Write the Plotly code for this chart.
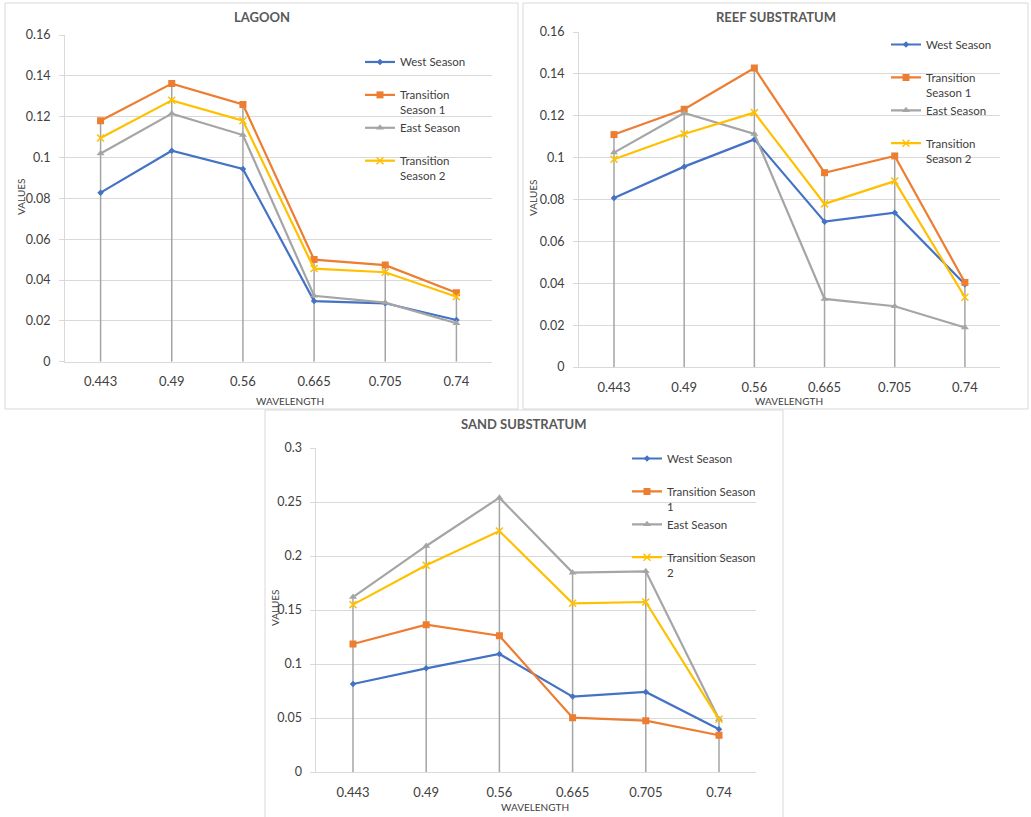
import numpy as np
import plotly.graph_objects as go

W, H = 1031, 817

categories = ["0.443", "0.49", "0.56", "0.665", "0.705", "0.74"]
series_names = ["West Season", "Transition Season 1", "East Season", "Transition Season 2"]

lagoon_west = [0.0828, 0.1033, 0.0944, 0.0297, 0.0286, 0.0204]
lagoon_trans1 = [0.1180, 0.1362, 0.1260, 0.0500, 0.0473, 0.0338]
lagoon_east = [0.1020, 0.1215, 0.1110, 0.0323, 0.0289, 0.0188]
lagoon_trans2 = [0.1096, 0.1280, 0.1180, 0.0456, 0.0438, 0.0318]

reef_west = [0.0807, 0.0957, 0.1087, 0.0694, 0.0737, 0.0395]
reef_trans1 = [0.1110, 0.1231, 0.1428, 0.0928, 0.1008, 0.0404]
reef_east = [0.1024, 0.1213, 0.1113, 0.0325, 0.0290, 0.0189]
reef_trans2 = [0.0992, 0.1113, 0.1215, 0.0779, 0.0888, 0.0333]

sand_west = [0.0815, 0.0960, 0.1093, 0.0698, 0.0741, 0.0395]
sand_trans1 = [0.1185, 0.1364, 0.1262, 0.0503, 0.0475, 0.0340]
sand_east = [0.1620, 0.2093, 0.2540, 0.1846, 0.1858, 0.0488]
sand_trans2 = [0.1550, 0.1914, 0.2231, 0.1562, 0.1574, 0.0488]

colors = ["#4472C4", "#ED7D31", "#A5A5A5", "#FFC000"]
grid = "#D9D9D9"
txt = "#404040"
FONT = "Lato"

fig = go.Figure()


def px_x(v):
    return v / W


def px_y(v):
    return 1 - v / H


panels = [
    dict(title="LAGOON", data=[lagoon_west, lagoon_trans1, lagoon_east, lagoon_trans2],
         plot=(65, 35, 492, 361.7), box=(5, 3, 518, 409), yr=0.16, dt=0.02,
         labels=["West Season<br> ", "Transition<br>Season 1", "East Season<br> ", "Transition<br>Season 2"],
         leg=(360, 48), vals=(21, 197), wave=(290, 401)),
    dict(title="REEF SUBSTRATUM", data=[reef_west, reef_trans1, reef_east, reef_trans2],
         plot=(578.9, 32, 1000, 367), box=(523, 3, 1028, 409), yr=0.16, dt=0.02,
         labels=["West Season<br> ", "Transition<br>Season 1", "East Season<br> ", "Transition<br>Season 2"],
         leg=(886, 30.5), vals=(533, 198), wave=(789, 401)),
    dict(title="SAND SUBSTRATUM", data=[sand_west, sand_trans1, sand_east, sand_trans2],
         plot=(316.4, 448, 755.6, 772), box=(265, 410, 783, 820), yr=0.3, dt=0.05,
         labels=["West Season<br> ", "Transition Season<br>1", "East Season<br> ", "Transition Season<br>2"],
         leg=(627, 444.5), vals=(275, 608), wave=(535, 807)),
]

markers = [
    dict(symbol="diamond", size=5),
    dict(symbol="square", size=7),
    dict(symbol="triangle-up", size=7),
    dict(symbol="x-thin", size=7),
]

shapes = []
annotations = []
layout_axes = {}

for i, p in enumerate(panels):
    n = "" if i == 0 else str(i + 1)
    xa, ya = "x" + n, "y" + n
    lg = "legend" + n
    x0, y0, x1, y1 = p["plot"]
    # drop lines from the top value to zero
    tops = np.max(np.array(p["data"]), axis=0)
    dx, dy = [], []
    for c, t in zip(categories, tops):
        dx += [c, c, None]
        dy += [0, float(t), None]
    fig.add_trace(go.Scatter(x=dx, y=dy, mode="lines", line=dict(color="#A5A5A5", width=1.5),
                             xaxis=xa, yaxis=ya, showlegend=False, hoverinfo="skip"))
    for k, vals in enumerate(p["data"]):
        mk = dict(markers[k])
        mk["color"] = colors[k]
        if mk["symbol"] == "x-thin":
            mk["line"] = dict(width=1.5, color=colors[k])
        fig.add_trace(go.Scatter(x=categories, y=vals, mode="lines+markers", name=p["labels"][k],
                                 line=dict(color=colors[k], width=2.2), marker=mk,
                                 xaxis=xa, yaxis=ya, legend=lg))
    layout_axes["xaxis" + n] = dict(
        domain=[px_x(x0), px_x(x1)], anchor=ya, type="category", range=[-0.5, 5.5],
        showline=True, linecolor=grid, linewidth=1, showgrid=False, zeroline=False,
        ticks="", tickfont=dict(family=FONT, size=13, color=txt), ticklabelstandoff=8,
        fixedrange=True)
    layout_axes["yaxis" + n] = dict(
        domain=[px_y(y1), px_y(y0)], anchor=xa, range=[0, p["yr"]], dtick=p["dt"], tick0=0,
        showline=True, linecolor=grid, linewidth=1, showgrid=True, gridcolor=grid, gridwidth=1,
        zeroline=False, ticks="outside", ticklen=5, tickcolor=grid,
        tickfont=dict(family=FONT, size=12.5, color=txt), ticklabelstandoff=6, fixedrange=True)
    layout_axes[lg] = dict(
        x=px_x(p["leg"][0]), y=px_y(p["leg"][1]), xanchor="left", yanchor="top",
        bgcolor="rgba(0,0,0,0)", valign="top", font=dict(family=FONT, size=11.5, color=txt),
        tracegroupgap=0)
    bx0, by0, bx1, by1 = p["box"]
    shapes.append(dict(type="rect", xref="paper", yref="paper", x0=px_x(bx0), x1=px_x(bx1),
                       y0=px_y(by1), y1=px_y(by0), line=dict(color=grid, width=1), layer="below"))
    annotations.append(dict(text="<b>" + p["title"] + "</b>", xref="paper", yref="paper",
                            x=px_x((bx0 + bx1) / 2), y=px_y(by0 + 14), xanchor="center",
                            yanchor="middle", showarrow=False,
                            font=dict(family=FONT, size=13, color="#595959")))
    annotations.append(dict(text="VALUES", xref="paper", yref="paper", x=px_x(p["vals"][0]),
                            y=px_y(p["vals"][1]), xanchor="center", yanchor="middle",
                            textangle=-90, showarrow=False,
                            font=dict(family=FONT, size=10, color=txt)))
    annotations.append(dict(text="WAVELENGTH", xref="paper", yref="paper", x=px_x(p["wave"][0]),
                            y=px_y(p["wave"][1]), xanchor="center", yanchor="middle",
                            showarrow=False, font=dict(family=FONT, size=10, color=txt)))

fig.update_layout(
    width=W, height=H, margin=dict(l=0, r=0, t=0, b=0, autoexpand=False),
    paper_bgcolor="white", plot_bgcolor="white", shapes=shapes, annotations=annotations,
    font=dict(family=FONT, color=txt), hovermode=False, **layout_axes)

fig.write_html("out.html", config={"displayModeBar": False},
               post_script="document.body.style.margin='0';document.body.style.overflow='hidden';")
